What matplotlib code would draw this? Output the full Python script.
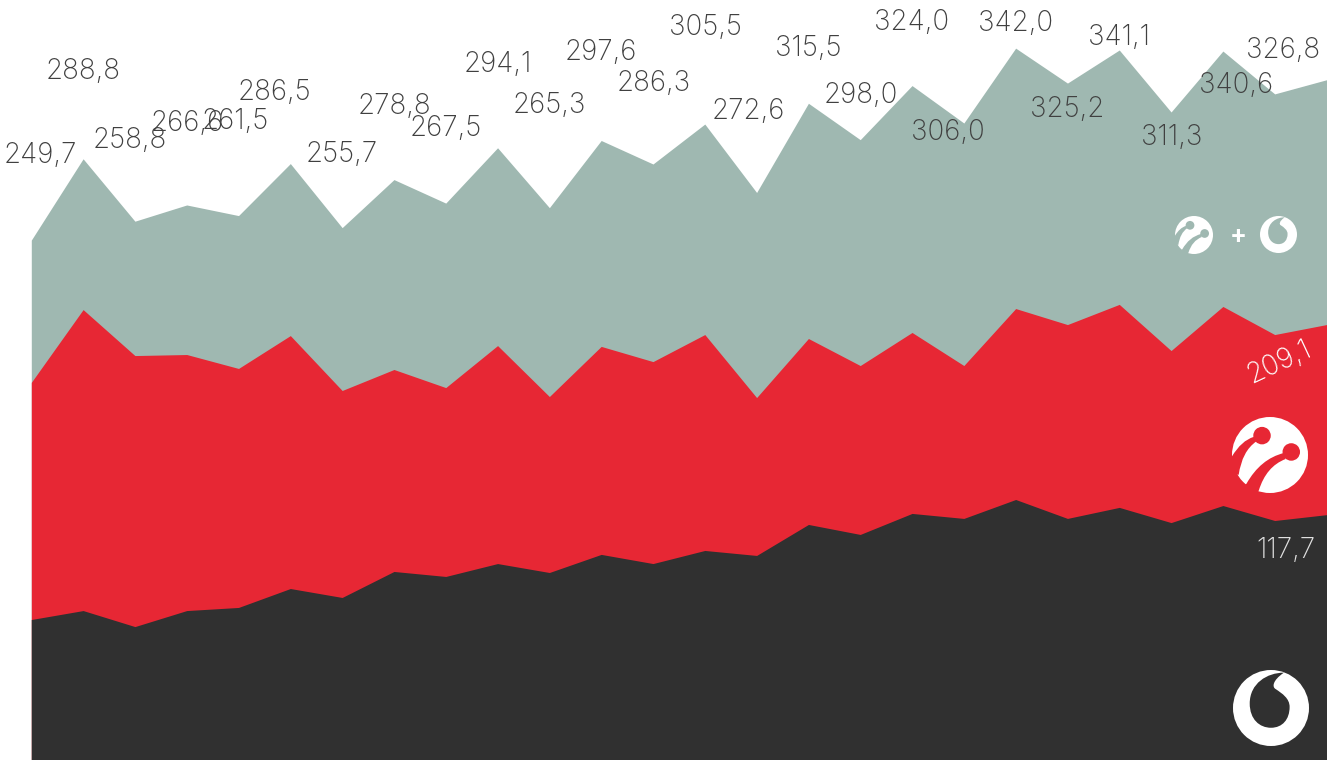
import matplotlib
matplotlib.use("Agg")
import matplotlib.pyplot as plt
from matplotlib.patches import Circle, PathPatch
from matplotlib.path import Path
from matplotlib.transforms import Affine2D, IdentityTransform

# monthly subscribers, one point per month
combined = [249.7, 288.8, 258.8, 266.6, 261.5, 286.5, 255.7, 278.8, 267.5, 294.1, 265.3, 297.6, 286.3,
            305.5, 272.6, 315.5, 298.0, 324.0, 306.0, 342.0, 325.2, 341.1, 311.3, 340.6, 320.0, 326.8]
turkcell = [181.3, 216.3, 194.2, 194.7, 188.0, 203.8, 177.4, 187.5, 178.8, 199.0, 174.5, 198.6, 191.3,
            204.3, 174.0, 202.4, 189.4, 205.3, 189.4, 216.8, 209.1, 218.8, 196.6, 217.8, 204.3, 209.1]
vodafone = [67.3, 71.6, 63.9, 71.6, 73.1, 82.2, 77.9, 90.4, 88.0, 94.2, 89.9, 98.6, 94.2,
            100.5, 98.1, 113.0, 108.2, 118.3, 115.9, 125.0, 115.9, 121.2, 113.9, 122.1, 114.9, 117.7]

# label offsets from the point in pixels, None = no label
label_offsets = [(9, 85), (0, 87), (-5, 81), (0, 81), (-3, 94), (-16, 71), (0, 73), (0, 73), (0, 75),
                 (0, 83), (0, 102), (0, 88), (1, 80), (1, 97), (-8, 81), (0, 55), (1, 44), (0, 63),
                 (-16, -9), (0, 25), (0, -26), (0, 13), (1, -26), (13, -34), None, (-43, 29)]

GREY = "#9fb8b1"
RED = "#e72734"
DARK = "#303030"
W, H = 1333, 760
FONT = "Inter"
LABEL = dict(ha="center", va="center", fontsize=20, family=FONT, weight=200, zorder=4,
             textcoords="offset pixels", annotation_clip=False)


def fmt(v):
    return f"{v:.1f}".replace(".", ",")


# logos are drawn in a unit circle, y pointing down
def place(cx, cy, r):
    return Affine2D().scale(r, -r).translate(cx, H - cy) + IdentityTransform()


def vodafone_logo(fig, cx, cy, r, bg):
    t = place(cx, cy, r)
    fig.add_artist(Circle((0, 0), 1, transform=t, fc="white", ec="none", zorder=5))
    verts = [(0.34, -0.93), (-0.1, -0.93), (-0.56, -0.65), (-0.56, -0.12),
             (-0.56, 0.3), (-0.3, 0.52), (0.0, 0.52),
             (0.3, 0.52), (0.49, 0.3), (0.49, -0.03),
             (0.49, -0.25), (0.3, -0.38), (0.12, -0.5),
             (0.03, -0.55), (0.03, -0.72), (0.34, -0.93)]
    codes = [Path.MOVETO] + [Path.CURVE4] * 15
    fig.add_artist(PathPatch(Path(verts, codes), transform=t, fc=bg, ec="none", zorder=6))


def turkcell_logo(fig, cx, cy, r, bg):
    t = place(cx, cy, r)
    fig.add_artist(Circle((0, 0), 1, transform=t, fc="white", ec="none", zorder=5))
    band1 = Path([(-1.0, 0.035), (-0.75, -0.38), (-0.43, -0.476), (-0.357, -0.36), (-0.736, -0.1),
                  (-0.824, 0.52), (-1.1, 0.5), (-1.0, 0.035)],
                 [Path.MOVETO, Path.CURVE3, Path.CURVE3, Path.LINETO, Path.CURVE3,
                  Path.CURVE3, Path.LINETO, Path.CLOSEPOLY])
    band2 = Path([(-0.62, 0.757), (-0.25, 0.1), (0.366, -0.053), (0.41, 0.106), (-0.1, 0.3),
                  (-0.295, 0.934), (-0.4, 1.1), (-0.75, 0.85), (-0.62, 0.757)],
                 [Path.MOVETO, Path.CURVE3, Path.CURVE3, Path.LINETO, Path.CURVE3,
                  Path.CURVE3, Path.LINETO, Path.LINETO, Path.CLOSEPOLY])
    for p in (band1, band2):
        fig.add_artist(PathPatch(p, transform=t, fc=bg, ec="none", zorder=6))
    for c in ((-0.21, -0.51), (0.56, -0.08)):
        fig.add_artist(Circle(c, 0.23, transform=t, fc=bg, ec="none", zorder=6))


fig = plt.figure(figsize=(W / 100, H / 100), dpi=100)
ax = fig.add_axes([0, 0, 1, 1])
ax.axis("off")

months = list(range(len(combined)))
step = (1326.5 - 31.3) / 25
ax.set_xlim(-31.3 / step, (W - 31.3) / step)
ax.set_ylim(-0.5 / 2.08, (H - 0.5) / 2.08)

ax.fill_between(months, combined, -1, color=GREY, lw=0, zorder=1)
ax.fill_between(months, turkcell, -1, color=RED, lw=0, zorder=2)
ax.fill_between(months, vodafone, -1, color=DARK, lw=0, zorder=3)

for i, off in enumerate(label_offsets):
    if off is None:
        continue
    ax.annotate(fmt(combined[i]), (i, combined[i]), xytext=off, color="#404040", **LABEL)

ax.annotate(fmt(turkcell[-1]), (months[-1], turkcell[-1]), xytext=(-47, -38), color="white",
            rotation=25, **LABEL)
ax.annotate(fmt(vodafone[-1]), (months[-1], vodafone[-1]), xytext=(-41, -36), color="#e0e0e0", **LABEL)

turkcell_logo(fig, 1270, 455, 38, RED)
vodafone_logo(fig, 1271, 708, 38, DARK)
turkcell_logo(fig, 1194, 235, 19, GREY)
vodafone_logo(fig, 1278.5, 234.5, 18.5, GREY)
fig.text(1238 / W, 1 - 237 / H, "+", color="white", fontsize=18, weight="bold", family=FONT,
         ha="center", va="center", zorder=5)

fig.savefig("out.png", dpi=100, facecolor="white")
